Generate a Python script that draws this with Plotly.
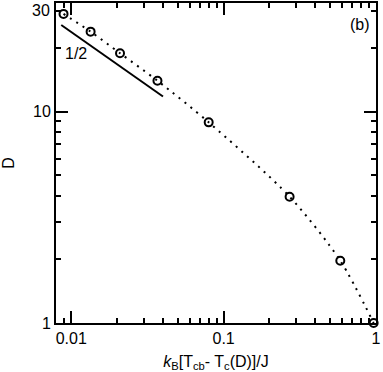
import math
import plotly.graph_objects as go

# ---- data ----
temp_diff = [0.0089, 0.0134, 0.0209, 0.0368, 0.0798, 0.271, 0.583, 0.965]
D_vals = [29.0, 23.9, 18.9, 14.0, 8.9, 3.96, 1.97, 1.0]

guide_x = [0.0086, 0.040]      # slope -1/2 guide line
guide_y = [25.7, 11.8]
guide_label = "1/2"
panel_label = "(b)"

x_major = [0.01, 0.1, 1]
x_major_text = ["0.01", "0.1", "1"]
x_minor = [0.009, 0.02, 0.03, 0.04, 0.05, 0.06, 0.07, 0.08, 0.09,
           0.2, 0.3, 0.4, 0.5, 0.6, 0.7, 0.8, 0.9]
y_major = [1, 10]
y_major_text = ["1", "10"]
y_minor = [2, 3, 4, 5, 6, 7, 8, 9, 20, 30]
y_extra_label = 30

FONT = "Liberation Sans, Arial, Helvetica, sans-serif"

fig = go.Figure()

fig.add_trace(go.Scatter(
    x=temp_diff, y=D_vals, mode="lines",
    line=dict(color="black", width=2, dash="2px,5.5px", shape="spline", smoothing=0.8),
    cliponaxis=False, hoverinfo="skip", showlegend=False))

fig.add_trace(go.Scatter(
    x=guide_x, y=guide_y, mode="lines",
    line=dict(color="black", width=2),
    showlegend=False))

fig.add_trace(go.Scatter(
    x=temp_diff, y=D_vals, mode="markers",
    marker=dict(symbol="circle-open", size=8, color="black", line=dict(width=2, color="black")),
    cliponaxis=False, showlegend=False))

axis_common = dict(
    type="log", showgrid=False, zeroline=False, automargin=False,
    showline=True, linecolor="black", linewidth=2, mirror="allticks",
    ticks="inside", ticklen=12, tickwidth=2, tickcolor="black",
    tickfont=dict(family=FONT, size=16, color="black"),
)

fig.update_xaxes(
    **axis_common,
    range=[-2.1, 0],
    tickmode="array", tickvals=x_major, ticktext=x_major_text,
    minor=dict(tickmode="array", tickvals=x_minor, ticks="inside", ticklen=5,
               tickwidth=1.5, tickcolor="black", showgrid=False),
    title=dict(text="<i>k</i><sub>B</sub>[T<sub>cb</sub>- T<sub>c</sub>(D)]/J",
               font=dict(family=FONT, size=16, color="black")),
)
fig.update_yaxes(
    **axis_common,
    range=[0, 1.514],
    tickmode="array", tickvals=y_major, ticktext=y_major_text,
    minor=dict(tickmode="array", tickvals=y_minor, ticks="inside", ticklen=5,
               tickwidth=1.5, tickcolor="black", showgrid=False),
    title=dict(text="D", font=dict(family=FONT, size=16, color="black")),
)

fig.add_annotation(text=str(y_extra_label), xref="paper", yref="y",
                   x=0, y=math.log10(y_extra_label), xanchor="right", yanchor="middle",
                   xshift=-4, showarrow=False,
                   font=dict(family=FONT, size=16, color="black"))
fig.add_annotation(text=guide_label, xref="paper", yref="paper",
                   x=0.064, y=0.841, xanchor="center", yanchor="middle", showarrow=False,
                   font=dict(family=FONT, size=16, color="black"))
fig.add_annotation(text=panel_label, xref="paper", yref="paper",
                   x=0.986, y=0.934, xanchor="right", yanchor="middle", showarrow=False,
                   font=dict(family=FONT, size=16, color="black"))

fig.update_layout(
    width=383, height=372, autosize=False,
    margin=dict(l=56, r=6.5, t=3, b=49),
    paper_bgcolor="white", plot_bgcolor="white",
    showlegend=False,
)

fig.write_html("out.html",
               config={"displayModeBar": False},
               post_script="document.body.style.margin='0px';document.body.style.overflow='hidden';")
